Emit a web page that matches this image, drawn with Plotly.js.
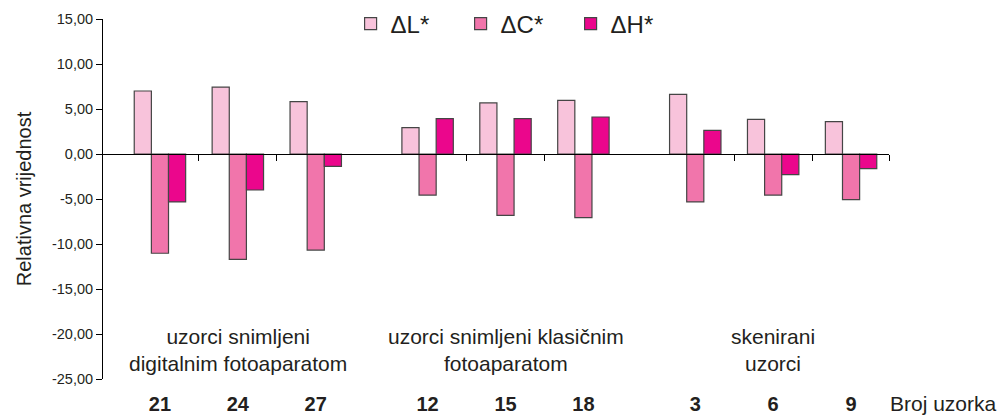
<!DOCTYPE html>
<html>
<head>
<meta charset="utf-8">
<script src="https://cdn.plot.ly/plotly-3.0.1.min.js"></script>
<style>html,body{margin:0;padding:0;background:#fff;}#chart{width:1001px;height:417px;}</style>
</head>
<body>
<div id="chart"></div>
<script>
// ---- data ----
const sampleLabels = ['21', '24', '27', '12', '15', '18', '3', '6', '9'];
const groupLabels = ['uzorci snimljeni<br>digitalnim fotoaparatom', 'uzorci snimljeni klasičnim<br>fotoaparatom', 'skenirani<br>uzorci'];
const seriesNames = ['\u0394L*', '\u0394C*', '\u0394H*'];
const dL = [7.00, 7.44, 5.81, 2.93, 5.67, 5.96, 6.63, 3.85, 3.59];
const dC = [-11.03, -11.70, -10.67, -4.56, -6.81, -7.07, -5.33, -4.56, -5.07];
const dH = [-5.33, -4.00, -1.37, 3.93, 3.93, 4.11, 2.63, -2.30, -1.63];
const yTicks = [15, 10, 5, 0, -5, -10, -15, -20, -25];
const yTickText = yTicks.map(v => v.toFixed(2).replace('.', ','));

// ---- layout helpers ----
const perGroup = 3;
const groupGap = 0.436;
const pos = sampleLabels.map((_, i) => i + Math.floor(i / perGroup) * groupGap);
const groupCenters = groupLabels.map((_, g) => pos[g * perGroup + 1]);
const boundaryTicks = [];
groupLabels.forEach((_, g) => {
  for (let k = 0; k < perGroup - 1; k++) boundaryTicks.push(pos[g * perGroup + k] + 0.5);
});
const xMin = -0.731, xMax = pos[pos.length - 1] + 0.487;
boundaryTicks.push(xMax);

const font = 'Liberation Sans, Arial, Helvetica, sans-serif';
const textColor = '#231f20';
const colors = ['#f8c3db', '#f175ab', '#eb068c'];
const series = [dL, dC, dH];

const traces = series.map((vals, s) => ({
  type: 'bar',
  name: seriesNames[s],
  x: pos,
  y: vals,
  marker: {color: colors[s], line: {color: '#454545', width: 1.2}},
  hoverinfo: 'y'
}));
// carrier trace for bottom sample-number axis
traces.push({type: 'scatter', x: pos, y: pos.map(() => null), xaxis: 'x2', yaxis: 'y', showlegend: false, hoverinfo: 'skip'});

const annotations = groupLabels.map((t, g) => ({
  text: t, x: groupCenters[g], xref: 'x', y: -21.8, yref: 'y',
  showarrow: false, xanchor: 'center', yanchor: 'middle',
  font: {family: font, size: 21, color: textColor}
}));
annotations.push({
  text: 'Broj uzorka', xref: 'paper', x: 0.9985, xanchor: 'left',
  yref: 'paper', y: -0.069, yanchor: 'middle', showarrow: false,
  font: {family: font, size: 21, color: textColor}
});

const layout = {
  width: 1001, height: 417,
  margin: {l: 103, r: 112, t: 19, b: 38, autoexpand: false},
  paper_bgcolor: '#ffffff', plot_bgcolor: '#ffffff',
  font: {family: font, color: textColor},
  barmode: 'group', bargap: 0.34, bargroupgap: 0,
  showlegend: true,
  legend: {
    orientation: 'h', x: 0.315, xanchor: 'left', y: 0.986, yanchor: 'middle',
    entrywidth: 65, entrywidthmode: 'pixels',
    font: {family: font, size: 24, color: textColor},
    bgcolor: 'rgba(0,0,0,0)', traceorder: 'normal'
  },
  xaxis: {
    range: [xMin, xMax], anchor: 'free', position: 0.625,
    showline: true, linecolor: '#000', linewidth: 1,
    ticks: 'outside', ticklen: 6, tickcolor: '#000', tickwidth: 1,
    tickmode: 'array', tickvals: boundaryTicks, showticklabels: false,
    showgrid: false, zeroline: false, fixedrange: true
  },
  xaxis2: {
    overlaying: 'x', matches: 'x', anchor: 'y', side: 'bottom',
    showline: false, showgrid: false, zeroline: false,
    ticks: 'outside', ticklen: 7, tickcolor: 'rgba(0,0,0,0)',
    tickmode: 'array', tickvals: pos, ticktext: sampleLabels,
    tickfont: {family: font, size: 20, color: textColor, weight: 700}
  },
  yaxis: {
    range: [-25, 15], tickmode: 'array', tickvals: yTicks, ticktext: yTickText,
    showline: true, linecolor: '#000', linewidth: 1,
    ticks: 'outside', ticklen: 6, tickcolor: '#000',
    tickfont: {family: font, size: 14.5, color: textColor},
    showgrid: false, zeroline: false,
    title: {text: 'Relativna vrijednost', standoff: 14, font: {family: font, size: 20, color: textColor}}
  },
  annotations: annotations
};

Plotly.newPlot('chart', traces, layout, {displayModeBar: false, staticPlot: true});
</script>
</body>
</html>
